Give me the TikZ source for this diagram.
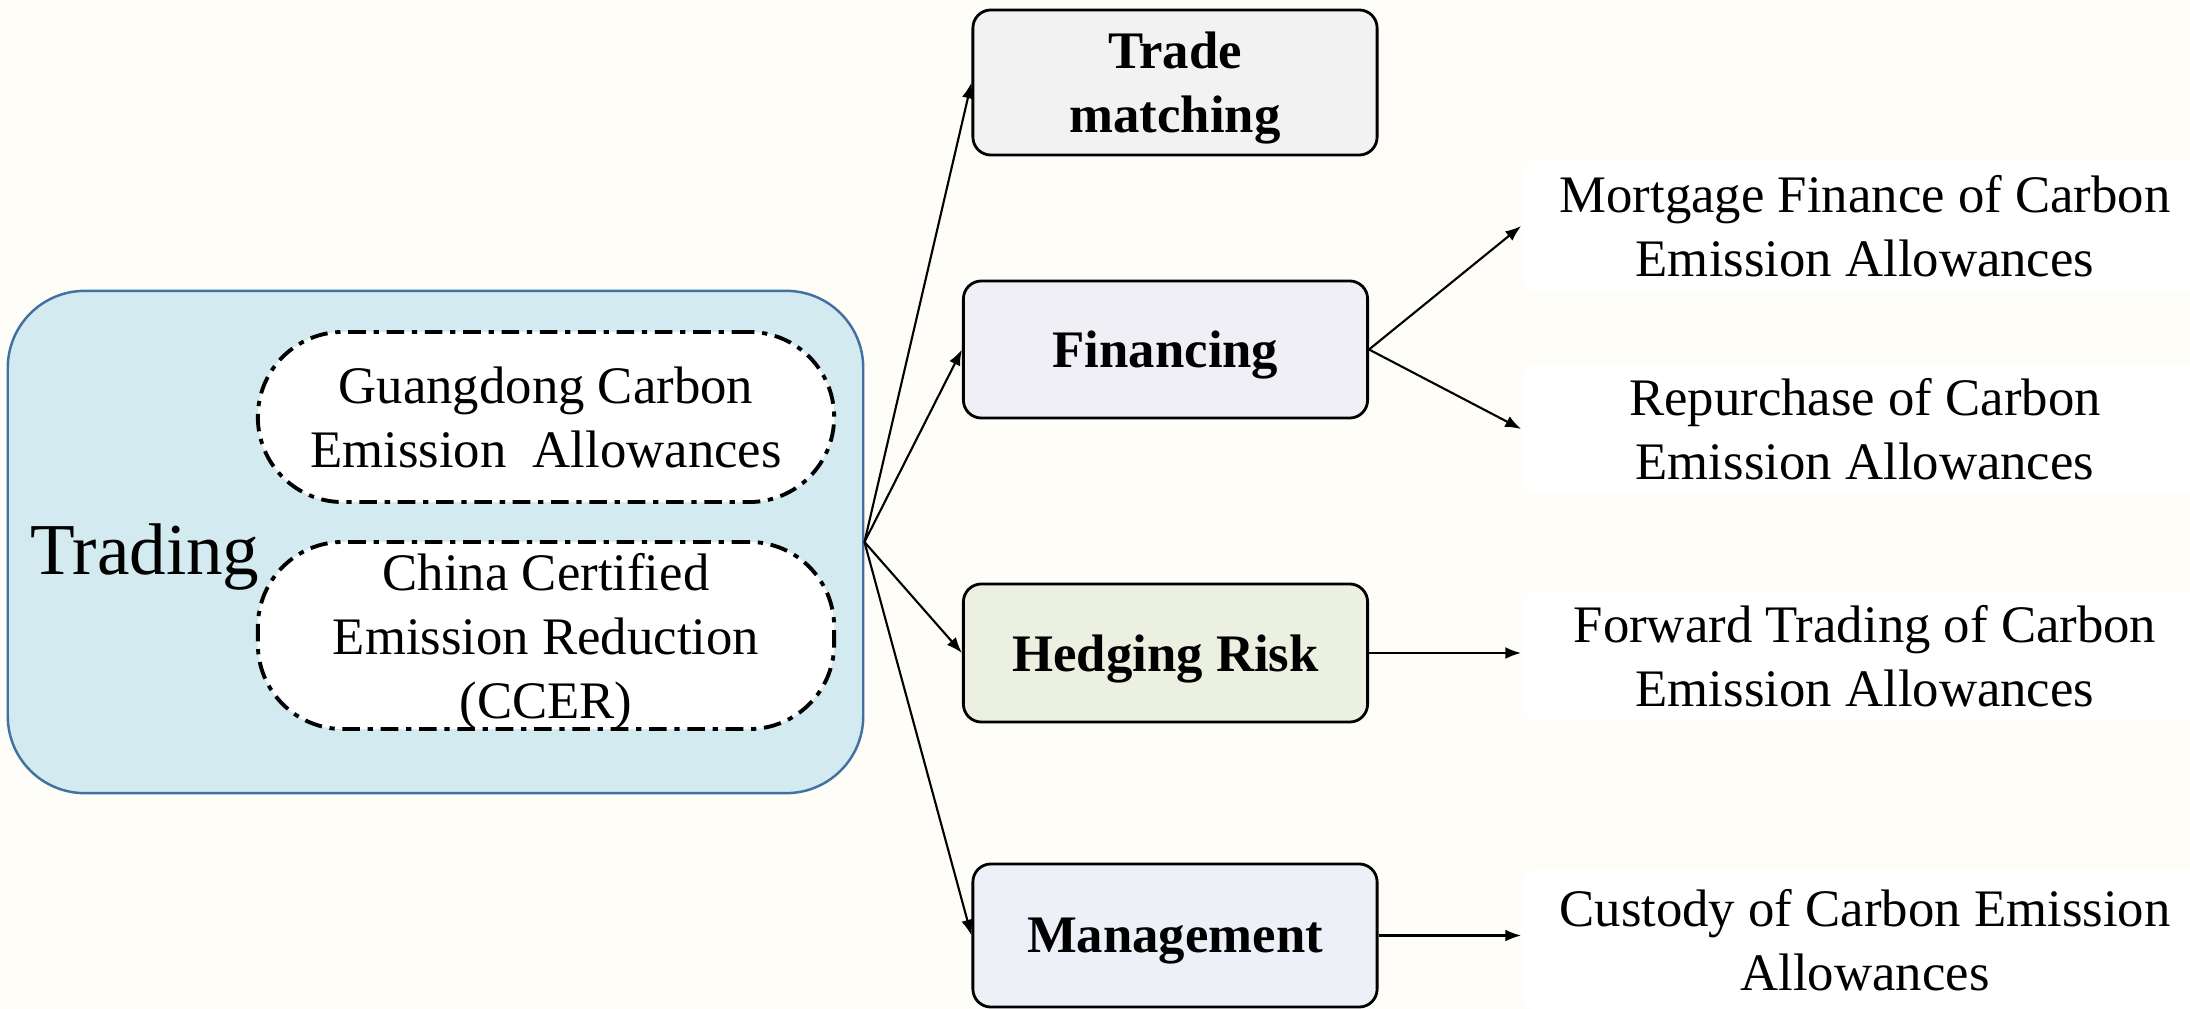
\documentclass[tikz,border=0pt]{standalone}
\usepackage{fontspec}
\setmainfont{Liberation Serif}
\usetikzlibrary{arrows.meta}
\definecolor{bgc}{RGB}{254,253,248}
\definecolor{tradfill}{RGB}{211,234,240}
\definecolor{tradborder}{RGB}{65,113,160}
\definecolor{tmfill}{RGB}{242,242,242}
\definecolor{finfill}{RGB}{240,239,245}
\definecolor{hedgefill}{RGB}{235,240,224}
\definecolor{mgmtfill}{RGB}{237,241,247}
\newcommand{\rsTxt}{\fontsize{15}{18.2}\selectfont}
\newcommand{\rsBig}{\fontsize{20.8}{24}\selectfont}
\begin{document}
\begin{tikzpicture}[x=0.01cm,y=-0.01cm,
  tradbox/.style={draw=tradborder, fill=tradfill, line width=0.7pt, rounded corners=0.77cm, minimum width=8.55cm, minimum height=5.02cm, inner sep=0pt},
  ovalbox/.style={draw=black, fill=white, line width=1.1pt, dash pattern=on 5pt off 2.2pt on 1.5pt off 2.2pt, rounded corners=0.85cm, minimum width=5.76cm, align=center, font=\rsTxt, inner sep=0pt, text depth=0pt},
  mainbox/.style={draw=black, line width=0.8pt, rounded corners=0.18cm, minimum width=4.04cm, align=center, font=\rsTxt\bfseries, inner sep=0pt, text depth=0pt},
  leafbox/.style={fill=white, rounded corners=0.15cm, minimum width=6.86cm, align=center, font=\rsTxt, inner sep=0pt},
  arr/.style={-{Latex[length=4.5pt,width=3.4pt]}, line width=0.6pt}
]
\fill[bgc] (0,0) rectangle (2190,1009);
\useasboundingbox (0,0) rectangle (2190,1009);

% left group
\node[tradbox] (trading) at (435.5,542) {};
\node[font=\rsBig, inner sep=0pt] (tradlabel) at (145,557) {Trading};
\node[ovalbox, minimum height=1.70cm] (gd) at (546,417) {Guangdong Carbon\\Emission\ \ Allowances};
\node[ovalbox, minimum height=1.87cm] (ccer) at (546,635.5) {China Certified\\Emission Reduction\\(CCER)};

% middle boxes
\node[mainbox, fill=tmfill, minimum height=1.45cm] (tm) at (1175,82.5) {Trade\\matching};
\node[mainbox, fill=finfill, minimum height=1.37cm] (fin) at (1165.5,349.5) {Financing};
\node[mainbox, fill=hedgefill, minimum height=1.38cm] (hedge) at (1165.5,653) {Hedging Risk};
\node[mainbox, fill=mgmtfill, minimum height=1.43cm] (mgmt) at (1175,935.5) {Management};

% right leaves
\node[leafbox, minimum height=1.31cm] (mort) at (1865,226) {Mortgage Finance of Carbon\\Emission Allowances};
\node[leafbox, minimum height=1.29cm] (rep) at (1865,429) {Repurchase of Carbon\\Emission Allowances};
\node[leafbox, minimum height=1.30cm] (fwd) at (1865,656) {Forward Trading of Carbon\\Emission Allowances};
\node[leafbox, minimum height=1.40cm] (cust) at (1865,940) {Custody of Carbon Emission\\Allowances};

% connectors
\draw[arr] (trading.east) -- (tm.west);
\draw[arr] (trading.east) -- (fin.west);
\draw[arr] (trading.east) -- (hedge.west);
\draw[arr] (trading.east) -- (mgmt.west);
\draw[arr] (fin.east) -- (mort.west);
\draw[arr] (fin.east) -- (rep.west);
\draw[arr] (hedge.east) -- (hedge.east -| fwd.west);
\draw[arr] (mgmt.east) -- (mgmt.east -| cust.west);
\end{tikzpicture}
\end{document}
